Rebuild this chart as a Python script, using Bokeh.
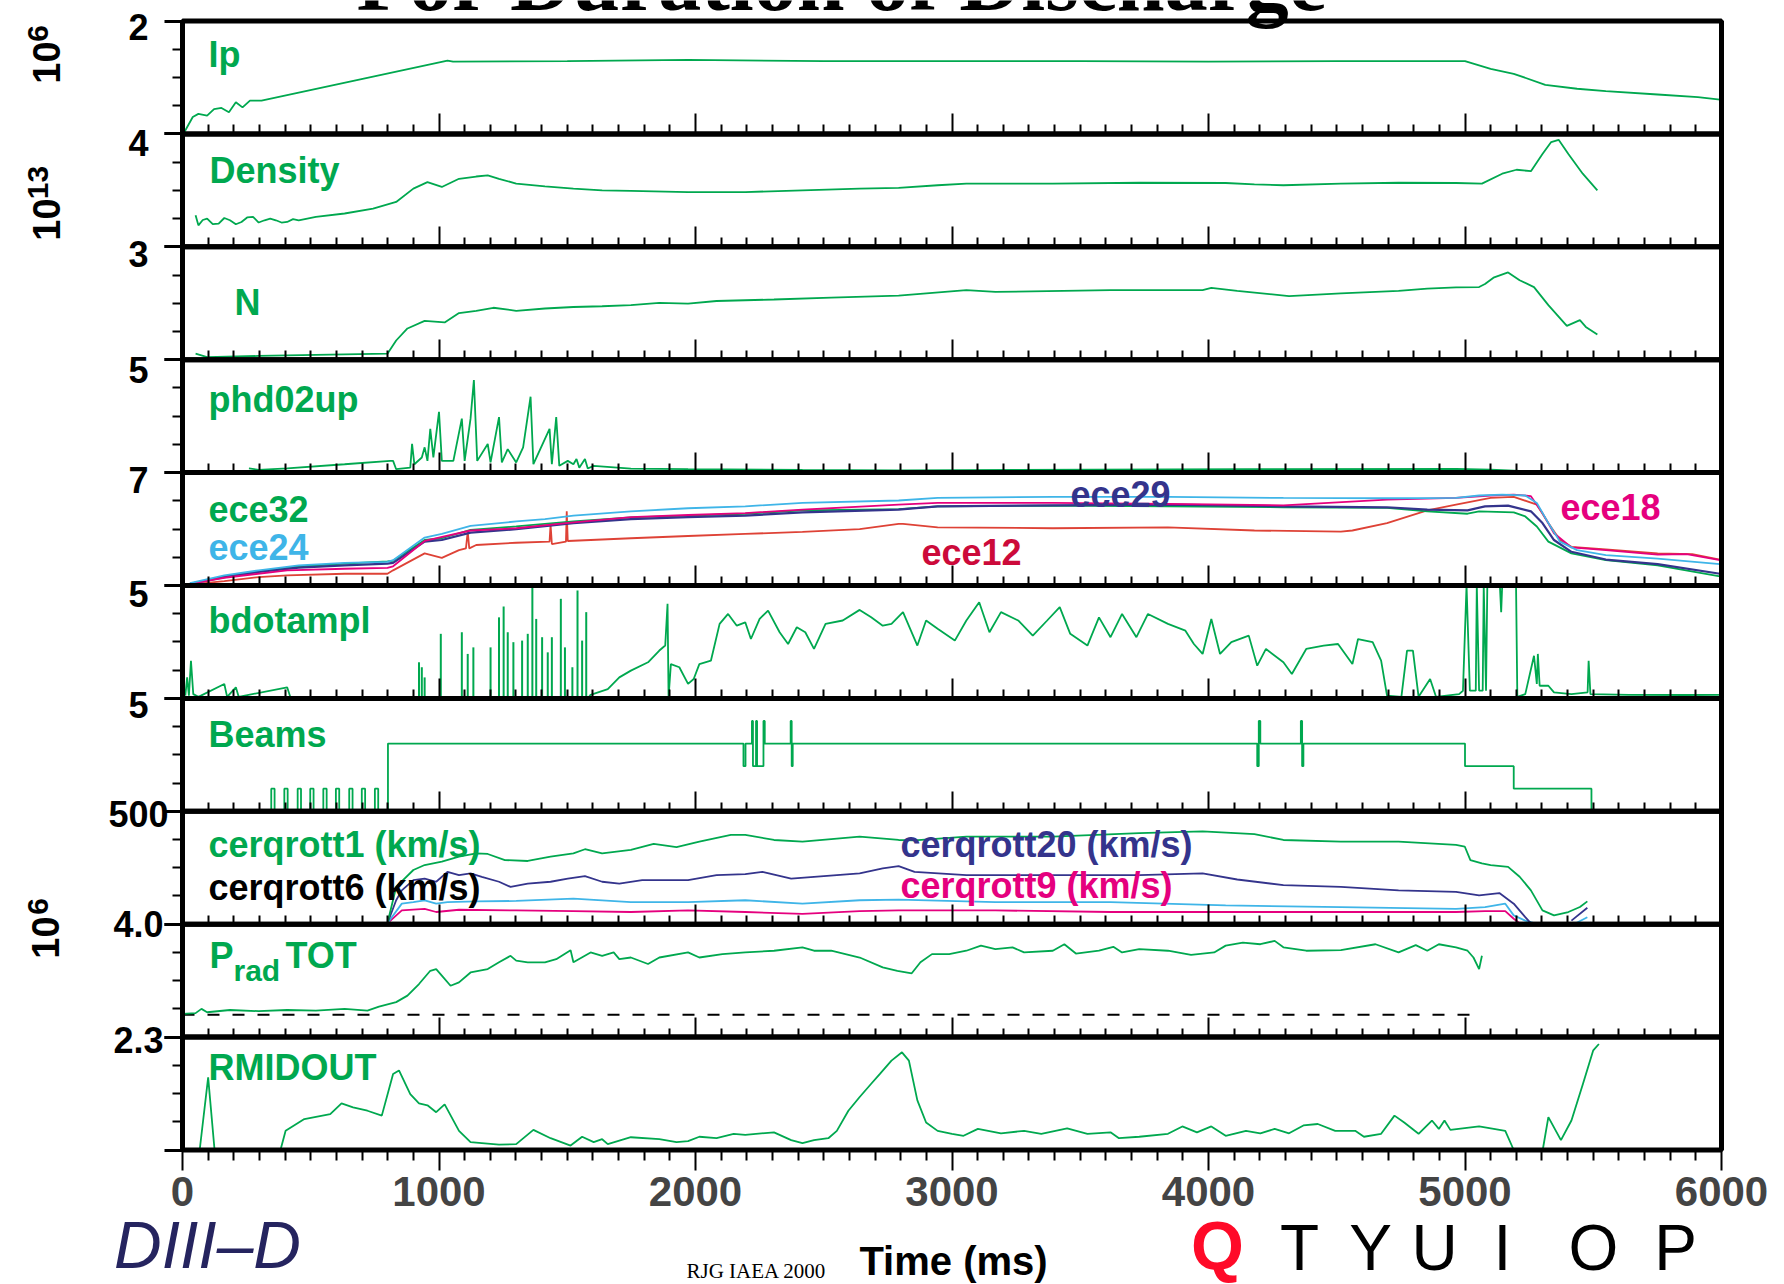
import numpy as np
from bokeh.plotting import figure
from bokeh.models import Range1d, LinearAxis, FixedTicker, Label, BoxAnnotation
from bokeh.embed import file_html
from bokeh.resources import INLINE

NAN = float("nan")

# ---------------- data ----------------
panel_names = ["Ip", "Density", "N", "phd02up", "ece", "bdotampl", "Beams", "cerqrott", "PradTOT", "RMIDOUT"]
panel_max = [2, 4, 3, 5, 7, 5, 5, 500, 4.0, 2.3]
panel_max_labels = ["2", "4", "3", "5", "7", "5", "5", "500", "4.0", "2.3"]
time_ticks = [0, 1000, 2000, 3000, 4000, 5000, 6000]
time_tick_labels = ["0", "1000", "2000", "3000", "4000", "5000", "6000"]

ip_t = [7, 40, 62, 96, 123, 152, 181, 208, 234, 263, 308, 1033, 1055, 1500, 1971, 2500, 3000, 3500, 4000, 4500, 4900, 5000, 5100, 5190, 5313, 5437, 5549, 5751, 5908, 5994]
ip_v = [0.03, 0.30, 0.355, 0.325, 0.44, 0.46, 0.385, 0.56, 0.47, 0.59, 0.59, 1.30, 1.28, 1.29, 1.31, 1.29, 1.29, 1.29, 1.28, 1.29, 1.29, 1.29, 1.15, 1.065, 0.87, 0.80, 0.757, 0.698, 0.651, 0.609]

dens_t = [51, 62, 79, 96, 118, 141, 163, 185, 208, 230, 252, 275, 297, 320, 342, 364, 386, 408, 431, 453, 520, 632, 743, 833, 900, 955, 1011, 1078, 1145, 1190, 1234, 1301, 1413, 1524, 1636, 1748, 1971, 2194, 2417, 2640, 2792, 2944, 3056, 3393, 3730, 4067, 4179, 4292, 4516, 4741, 4965, 5066, 5145, 5201, 5257, 5302, 5336, 5365, 5403, 5459, 5516]
dens_v = [1.12, 0.76, 0.95, 1.0, 0.80, 0.82, 1.02, 0.94, 0.80, 0.88, 1.04, 1.06, 0.86, 0.94, 1.00, 0.94, 0.86, 0.88, 0.98, 0.94, 1.06, 1.18, 1.35, 1.59, 2.06, 2.29, 2.12, 2.41, 2.49, 2.53, 2.41, 2.24, 2.14, 2.06, 2.0, 1.98, 1.94, 1.94, 2.0, 2.06, 2.09, 2.18, 2.24, 2.24, 2.27, 2.26, 2.21, 2.18, 2.24, 2.27, 2.26, 2.24, 2.59, 2.73, 2.68, 3.29, 3.71, 3.79, 3.29, 2.59, 2.0]

n_t = [51, 96, 297, 520, 799, 833, 877, 944, 1022, 1078, 1145, 1212, 1301, 1413, 1524, 1636, 1748, 1859, 1971, 2082, 2306, 2529, 2792, 3056, 3169, 3618, 3977, 4011, 4112, 4314, 4516, 4741, 4853, 4965, 5055, 5078, 5111, 5168, 5213, 5269, 5325, 5397, 5448, 5471, 5516]
n_v = [0.16, 0.07, 0.10, 0.13, 0.16, 0.51, 0.83, 1.03, 0.99, 1.24, 1.30, 1.38, 1.30, 1.36, 1.40, 1.42, 1.45, 1.51, 1.49, 1.56, 1.60, 1.65, 1.70, 1.85, 1.80, 1.85, 1.85, 1.91, 1.83, 1.69, 1.76, 1.83, 1.89, 1.92, 1.93, 2.01, 2.18, 2.32, 2.11, 1.93, 1.45, 0.90, 1.05, 0.87, 0.67]

phd_t = [259, 297, 408, 632, 810, 821, 833, 888, 895, 904, 933, 944, 955, 966, 978, 1000, 1011, 1056, 1089, 1100, 1123, 1136, 1149, 1190, 1201, 1234, 1245, 1268, 1301, 1328, 1357, 1368, 1431, 1440, 1457, 1469, 1502, 1524, 1536, 1547, 1569, 1580, 1603, 1748, 1971, 2417, 2792, 4157, 4965, 5100, 5213]
phd_v = [0.19, 0.12, 0.19, 0.37, 0.52, 0.52, 0.15, 0.22, 1.27, 0.37, 0.67, 1.12, 0.52, 1.94, 0.67, 2.69, 0.52, 0.52, 2.39, 0.52, 2.39, 4.10, 0.52, 1.27, 0.45, 2.46, 0.45, 1.04, 0.45, 1.12, 3.36, 0.37, 1.94, 0.37, 2.46, 0.30, 0.52, 0.37, 0.60, 0.22, 0.60, 0.18, 0.30, 0.18, 0.15, 0.12, 0.10, 0.15, 0.16, 0.13, 0.07]

ece24_t = [29, 163, 297, 453, 632, 799, 821, 944, 1011, 1123, 1301, 1413, 1524, 1748, 1971, 2194, 2417, 2792, 2944, 3393, 3842, 4292, 4741, 4965, 5055, 5145, 5235, 5280, 5325, 5370, 5437, 5549, 5751, 5994]
ece24_v = [0.15, 0.63, 0.94, 1.25, 1.40, 1.46, 1.57, 2.97, 3.20, 3.70, 3.97, 4.12, 4.33, 4.60, 4.79, 4.91, 5.12, 5.27, 5.43, 5.50, 5.50, 5.43, 5.41, 5.43, 5.58, 5.64, 5.58, 5.12, 3.87, 2.72, 2.19, 1.88, 1.67, 1.32]

ece32_t = [29, 163, 297, 453, 632, 799, 821, 944, 1011, 1123, 1301, 1524, 1748, 1971, 2194, 2417, 2792, 2944, 3393, 3842, 4292, 4696, 4853, 5010, 5055, 5190, 5235, 5280, 5325, 5415, 5549, 5751, 5994]
ece32_v = [0.10, 0.56, 0.88, 1.19, 1.36, 1.50, 1.53, 2.82, 2.93, 3.45, 3.66, 3.97, 4.22, 4.33, 4.45, 4.66, 4.74, 4.91, 4.95, 4.91, 4.85, 4.81, 4.60, 4.45, 4.60, 4.53, 4.28, 3.66, 2.72, 1.99, 1.57, 1.25, 0.56]

ece29_t = [29, 163, 297, 453, 632, 799, 821, 944, 1011, 1123, 1301, 1524, 1748, 1971, 2194, 2417, 2792, 2944, 3393, 3842, 4292, 4696, 4853, 5010, 5078, 5168, 5257, 5302, 5347, 5415, 5549, 5751, 5994]
ece29_v = [0.10, 0.52, 0.84, 1.11, 1.25, 1.36, 1.40, 2.72, 2.82, 3.28, 3.49, 3.87, 4.12, 4.24, 4.33, 4.53, 4.70, 4.91, 4.97, 5.02, 4.91, 4.85, 4.70, 4.66, 4.91, 4.95, 4.60, 3.87, 2.82, 2.09, 1.61, 1.32, 0.73]

ece18_t = [29, 163, 408, 632, 799, 821, 944, 1123, 1301, 1524, 1748, 1971, 2194, 2417, 2792, 2944, 3393, 3842, 4292, 4696, 4965, 5100, 5190, 5257, 5302, 5347, 5415, 5549, 5751, 5864, 5994]
ece18_v = [0.10, 0.48, 0.94, 1.04, 1.09, 1.19, 2.76, 3.41, 3.55, 3.91, 4.24, 4.37, 4.49, 4.70, 5.01, 5.12, 5.12, 5.06, 4.97, 5.33, 5.43, 5.58, 5.64, 5.54, 4.49, 3.24, 2.36, 2.19, 1.92, 1.94, 1.57]

ece12_t = [29, 163, 297, 408, 632, 799, 821, 944, 1011, 1078, 1105, 1112, 1118, 1145, 1301, 1431, 1435, 1440, 1495, 1498, 1502, 1748, 1971, 2194, 2417, 2640, 2792, 2809, 2944, 3393, 3842, 4179, 4516, 4561, 4696, 4853, 4965, 5100, 5190, 5280, 5325, 5370, 5415, 5549, 5751, 5886, 5994]
ece12_v = [0.06, 0.27, 0.52, 0.63, 0.73, 0.73, 0.94, 1.99, 1.71, 2.19, 2.30, 3.34, 2.30, 2.51, 2.65, 2.72, 3.76, 2.57, 2.72, 4.60, 2.76, 2.93, 3.07, 3.20, 3.32, 3.49, 3.82, 3.82, 3.61, 3.55, 3.61, 3.41, 3.34, 3.41, 3.87, 4.66, 5.01, 5.43, 5.50, 5.01, 3.87, 2.82, 2.40, 2.24, 1.99, 1.94, 1.61]

bdot_t = [11, 18, 25, 33, 42, 62, 163, 174, 208, 219, 408, 420, 1585, 1591, 1658, 1703, 1748, 1815, 1859, 1882, 1891, 1895, 1904, 1937, 1971, 1993, 2015, 2060, 2094, 2127, 2161, 2194, 2216, 2250, 2283, 2328, 2361, 2395, 2428, 2462, 2507, 2574, 2640, 2685, 2730, 2764, 2809, 2865, 2899, 2944, 3011, 3056, 3106, 3146, 3191, 3258, 3315, 3371, 3420, 3461, 3528, 3573, 3618, 3663, 3719, 3764, 3842, 3910, 3943, 3977, 4011, 4045, 4089, 4157, 4190, 4224, 4292, 4325, 4381, 4449, 4505, 4561, 4583, 4640, 4673, 4696, 4752, 4774, 4797, 4819, 4864, 4887, 4977, 4992, 5006, 5019, 5042, 5046, 5055, 5069, 5073, 5082, 5087, 5136, 5141, 5145, 5199, 5204, 5235, 5269, 5280, 5284, 5291, 5325, 5347, 5415, 5478, 5482, 5489, 5639, 5864, 5994]
bdot_v = [0.12, 0.93, 0.12, 1.67, 0.19, 0.07, 0.64, 0.07, 0.49, 0.07, 0.49, 0.07, 0.07, 0.16, 0.41, 0.93, 1.23, 1.60, 2.12, 2.34, 4.19, 0.07, 1.52, 1.38, 0.64, 0.86, 1.52, 1.67, 3.30, 3.74, 3.22, 3.37, 2.63, 3.52, 3.89, 2.93, 2.41, 3.15, 2.93, 2.19, 3.30, 3.45, 3.92, 3.59, 3.22, 3.30, 3.82, 2.34, 3.45, 3.08, 2.56, 3.45, 4.26, 2.93, 3.82, 3.45, 2.78, 3.45, 4.04, 2.86, 2.34, 3.59, 2.71, 3.74, 2.71, 3.74, 3.30, 3.00, 2.41, 1.97, 3.52, 1.97, 2.49, 2.78, 1.45, 2.19, 1.60, 1.08, 2.19, 2.34, 2.41, 1.52, 2.63, 2.49, 1.67, 0.12, 0.07, 2.12, 2.12, 0.07, 0.86, 0.07, 0.19, 0.34, 5.0, 0.34, 0.34, 5.0, 0.34, 0.34, 5.0, 0.34, 5.0, 5.0, 3.82, 5.0, 5.0, 0.07, 0.19, 1.89, 0.64, 1.97, 0.56, 0.56, 0.27, 0.19, 0.27, 1.67, 0.19, 0.16, 0.15, 0.16]
bdot_spike_t = [922, 933, 944, 1007, 1089, 1112, 1134, 1201, 1234, 1252, 1268, 1290, 1324, 1346, 1364, 1379, 1402, 1424, 1440, 1475, 1491, 1520, 1540, 1558, 1574]
bdot_spike_v = [1.60, 1.38, 0.93, 2.86, 2.93, 1.97, 2.26, 2.26, 3.59, 4.07, 2.93, 2.49, 2.56, 2.86, 5.0, 3.52, 2.71, 2.04, 2.71, 4.41, 2.26, 1.38, 4.78, 2.56, 3.82]

beams_t = [0, 346, 359, 397, 410, 449, 462, 498, 511, 549, 562, 598, 611, 650, 663, 699, 712, 750, 763, 801, 2187, 2195, 2220, 2224, 2236, 2240, 2265, 2270, 2371, 2375, 2379, 4190, 4196, 4202, 4360, 4365, 4370, 5000, 5190, 5493, 5500]
beams_v = [0, 1, 0, 1, 0, 1, 0, 1, 0, 1, 0, 1, 0, 1, 0, 1, 0, 1, 0, 3, 2, 3, 4, 2, 4, 2, 4, 3, 4, 2, 3, 2, 4, 3, 4, 2, 3, 2, 1, 0, 0]

cer1_t = [799, 833, 900, 944, 1011, 1078, 1145, 1190, 1257, 1346, 1435, 1524, 1569, 1636, 1748, 1837, 1926, 2015, 2138, 2194, 2306, 2417, 2529, 2640, 2792, 2854, 3056, 3393, 3730, 3977, 4179, 4292, 4516, 4741, 4965, 4999, 5021, 5066, 5100, 5168, 5213, 5257, 5302, 5347, 5403, 5448, 5477]
cer1_v = [4, 165, 240, 262, 277, 299, 314, 311, 284, 280, 299, 314, 332, 314, 329, 356, 341, 366, 396, 396, 373, 366, 377, 388, 373, 371, 388, 388, 403, 411, 399, 373, 366, 366, 351, 344, 284, 269, 262, 254, 210, 150, 61, 39, 54, 76, 101]

cer20_t = [799, 833, 855, 900, 944, 989, 1033, 1078, 1123, 1167, 1234, 1279, 1346, 1435, 1502, 1569, 1636, 1703, 1792, 1971, 2082, 2194, 2261, 2373, 2462, 2640, 2730, 2792, 2854, 3056, 3393, 3730, 3977, 4112, 4292, 4516, 4741, 4965, 5055, 5134, 5190, 5235, 5257, NAN, 5415, 5477]
cer20_v = [4, 106, 150, 195, 202, 188, 232, 217, 225, 210, 188, 165, 180, 188, 202, 213, 188, 180, 195, 195, 217, 222, 232, 202, 210, 225, 247, 257, 232, 217, 217, 217, 225, 198, 173, 165, 150, 143, 128, 138, 91, 31, 4, NAN, 16, 73]

cer6_t = [799, 855, 900, 944, 989, 1033, 1145, 1301, 1524, 1748, 1971, 2194, 2417, 2640, 2792, 3169, 3618, 4067, 4516, 4965, 5078, 5157, 5190, 5235, 5280, NAN, 5426, 5477]
cer6_v = [4, 91, 98, 106, 91, 98, 101, 103, 113, 98, 98, 106, 91, 106, 109, 98, 98, 83, 76, 68, 76, 91, 39, 16, 1, NAN, 1, 31]

cer9_t = [799, 855, 944, 989, 1078, 1301, 1524, 1748, 1971, 2194, 2417, 2640, 2792, 3169, 3618, 4067, 4516, 4965, 5078, 5157, 5190, 5213]
cer9_v = [4, 61, 68, 54, 64, 61, 58, 54, 61, 54, 46, 58, 61, 61, 54, 54, 54, 54, 58, 58, 24, 4]

prad_t = [0, 51, 74, 96, 185, 297, 408, 520, 632, 721, 766, 833, 877, 922, 966, 989, 1011, 1045, 1078, 1123, 1190, 1234, 1279, 1301, 1346, 1413, 1457, 1513, 1524, 1591, 1636, 1681, 1703, 1748, 1815, 1859, 1971, 2015, 2105, 2194, 2306, 2417, 2462, 2529, 2640, 2730, 2787, 2843, 2877, 2922, 2989, 3056, 3113, 3169, 3236, 3281, 3393, 3438, 3483, 3573, 3629, 3663, 3730, 3842, 3932, 4022, 4067, 4134, 4202, 4258, 4292, 4381, 4516, 4651, 4741, 4808, 4853, 4898, 4965, 5010, 5033, 5055, 5066]
prad_v = [0.82, 0.85, 1.0, 0.88, 0.96, 0.92, 0.96, 0.94, 1.0, 0.94, 1.08, 1.24, 1.47, 1.88, 2.35, 2.41, 2.18, 1.82, 1.94, 2.29, 2.41, 2.65, 2.88, 2.71, 2.65, 2.65, 2.76, 3.08, 2.65, 3.0, 2.88, 3.0, 2.76, 2.82, 2.59, 2.82, 3.0, 2.82, 2.94, 3.0, 3.06, 3.18, 3.06, 3.06, 2.82, 2.47, 2.35, 2.26, 2.65, 2.94, 2.94, 3.06, 3.24, 3.12, 3.18, 3.0, 3.06, 3.29, 2.96, 3.06, 3.20, 3.0, 3.12, 3.06, 2.91, 3.0, 3.24, 3.35, 3.29, 3.41, 3.18, 3.06, 3.08, 3.29, 3.0, 3.26, 3.06, 3.29, 3.18, 3.06, 2.82, 2.41, 2.88]
prad_ref_t = [0, 5066]
prad_ref_v = [0.79, 0.79]

rmid_t = [67, 100, 125, NAN, 382, 402, 475, 576, 620, 665, 721, 777, 821, 844, 888, 922, 955, 989, 1022, 1078, 1123, 1167, 1234, 1301, 1368, 1435, 1513, 1558, 1603, 1636, 1658, 1748, 1859, 1926, 1971, 2015, 2082, 2149, 2194, 2306, 2373, 2417, 2462, 2518, 2551, 2596, 2640, 2685, 2719, 2764, 2805, 2832, 2865, 2899, 2944, 3000, 3045, 3101, 3191, 3281, 3348, 3449, 3528, 3618, 3651, 3730, 3842, 3898, 3955, 4011, 4067, 4146, 4202, 4258, 4314, 4370, 4426, 4494, 4572, 4606, 4673, 4725, 4763, 4819, 4871, 4898, 4920, 4943, 5055, 5112, 5157, 5190, NAN, 5303, 5325, 5374, 5415, 5460, 5500, 5522]
rmid_v = [0, 1.48, 0, NAN, 0, 0.39, 0.63, 0.73, 0.95, 0.87, 0.80, 0.70, 1.55, 1.62, 1.14, 0.95, 0.91, 0.77, 0.93, 0.39, 0.16, 0.14, 0.11, 0.12, 0.41, 0.24, 0.09, 0.27, 0.16, 0.22, 0.12, 0.26, 0.22, 0.16, 0.18, 0.27, 0.24, 0.33, 0.31, 0.36, 0.20, 0.14, 0.20, 0.24, 0.39, 0.80, 1.08, 1.35, 1.55, 1.82, 1.99, 1.82, 1.01, 0.56, 0.39, 0.33, 0.29, 0.43, 0.34, 0.39, 0.33, 0.44, 0.33, 0.36, 0.24, 0.27, 0.33, 0.48, 0.36, 0.48, 0.29, 0.39, 0.34, 0.43, 0.34, 0.50, 0.53, 0.39, 0.39, 0.27, 0.33, 0.70, 0.56, 0.33, 0.60, 0.43, 0.60, 0.41, 0.48, 0.43, 0.39, 0, NAN, 0, 0.67, 0.20, 0.60, 1.35, 2.03, 2.16]

# ---------------- style / layout ----------------
GREEN = "#00A84F"
CYAN = "#3FB5E8"
NAVY = "#34348C"
MAGENTA = "#E5007E"
RED = "#DE4236"
CRIMSON = "#CC0A3A"
SANS = "Liberation Sans"
SERIF = "Liberation Serif"

NP = len(panel_names)
W, H = 1784, 1284          # canvas (the page shows it at its top-left corner)
X0 = 182                   # page x of t = 0
PXMS = 1539 / 6000         # pixels per ms
YB = 1149.5                # page y of the bottom of the last panel
PH = 112.9                 # panel height in px

p = figure(width=W, height=H, title=None,
           x_range=Range1d(-X0 / PXMS, (W - X0) / PXMS),
           y_range=Range1d(-(H - YB) / PH, YB / PH),
           x_axis_type=None, y_axis_type=None, output_backend="svg", toolbar_location=None,
           min_border_left=0, min_border_right=0, min_border_top=0, min_border_bottom=0)
p.grid.visible = False
p.outline_line_color = None
p.background_fill_color = "white"
p.border_fill_color = "white"

u0, u1 = p.y_range.start, p.y_range.end
p.extra_y_ranges = {f"p{k}": Range1d(start=(u0 - (NP - 1 - k)) * panel_max[k],
                                     end=(u1 - (NP - 1 - k)) * panel_max[k]) for k in range(NP)}

minor_time = [t for t in range(100, 6000, 100) if t % 1000 != 0]

# time axis of the last panel (ticks out, labels)
xb = LinearAxis(y_range_name=f"p{NP-1}", fixed_location=0,
                ticker=FixedTicker(ticks=time_ticks, minor_ticks=minor_time),
                axis_line_color=None, major_tick_in=0, major_tick_out=20, minor_tick_in=0, minor_tick_out=10,
                major_tick_line_width=2, minor_tick_line_width=2,
                major_label_text_font=SANS, major_label_text_font_size="42px",
                major_label_text_font_style="bold", major_label_standoff=7,
                major_label_overrides={t: s for t, s in zip(time_ticks, time_tick_labels)})
p.add_layout(xb, "below")

# inner time ticks of the upper panels
for k in range(NP - 1):
    ax = LinearAxis(y_range_name=f"p{k}", fixed_location=0,
                    ticker=FixedTicker(ticks=time_ticks, minor_ticks=minor_time),
                    axis_line_color=None, major_tick_in=20, major_tick_out=0, minor_tick_in=9, minor_tick_out=0,
                    major_tick_line_width=2, minor_tick_line_width=2, major_label_text_color=None)
    p.add_layout(ax, "below")

# per-panel y axes (ticks only; labels placed below)
for k in range(NP):
    m = panel_max[k]
    ay = LinearAxis(y_range_name=f"p{k}", fixed_location=0,
                    ticker=FixedTicker(ticks=[0, m], minor_ticks=[m * 0.25, m * 0.5, m * 0.75]),
                    axis_line_color=None, major_tick_in=0, major_tick_out=18, minor_tick_in=0, minor_tick_out=10,
                    major_tick_line_width=3, minor_tick_line_width=2, major_label_text_color=None)
    p.add_layout(ay, "left")

# data
LW = 1.8
p.line(ip_t, ip_v, y_range_name="p0", line_color=GREEN, line_width=LW)
p.line(dens_t, dens_v, y_range_name="p1", line_color=GREEN, line_width=LW)
p.line(n_t, n_v, y_range_name="p2", line_color=GREEN, line_width=LW)
p.line(phd_t, phd_v, y_range_name="p3", line_color=GREEN, line_width=LW)
p.line(ece12_t, ece12_v, y_range_name="p4", line_color=RED, line_width=LW)
p.line(ece32_t, ece32_v, y_range_name="p4", line_color=GREEN, line_width=LW)
p.line(ece29_t, ece29_v, y_range_name="p4", line_color=NAVY, line_width=2.2)
p.line(ece18_t, ece18_v, y_range_name="p4", line_color=MAGENTA, line_width=LW)
p.line(ece24_t, ece24_v, y_range_name="p4", line_color=CYAN, line_width=LW)
p.line(bdot_t, bdot_v, y_range_name="p5", line_color=GREEN, line_width=LW)
p.segment(x0=bdot_spike_t, y0=[0] * len(bdot_spike_t), x1=bdot_spike_t, y1=bdot_spike_v,
          y_range_name="p5", line_color=GREEN, line_width=2)
p.step(beams_t, beams_v, mode="after", y_range_name="p6", line_color=GREEN, line_width=LW)
p.line(cer9_t, cer9_v, y_range_name="p7", line_color=MAGENTA, line_width=LW)
p.line(cer6_t, cer6_v, y_range_name="p7", line_color=CYAN, line_width=LW)
p.line(cer20_t, cer20_v, y_range_name="p7", line_color=NAVY, line_width=LW)
p.line(cer1_t, cer1_v, y_range_name="p7", line_color=GREEN, line_width=LW)
p.line(prad_ref_t, prad_ref_v, y_range_name="p8", line_color="black", line_width=2, line_dash="12 13")
p.line(prad_t, prad_v, y_range_name="p8", line_color=GREEN, line_width=LW)
p.line(rmid_t, rmid_v, y_range_name="p9", line_color=GREEN, line_width=LW)

# panel frames
for k in range(NP):
    p.add_layout(BoxAnnotation(left=0, right=6000, bottom=NP - 1 - k, top=NP - k,
                               fill_color=None, fill_alpha=0, line_color="black", line_width=5, line_alpha=1))


def add_text(text, xp, yp, size, color="black", font=SANS, style="bold", align="left",
             angle=0, center=False):
    """xp, yp in page pixels; yp is the baseline unless center=True."""
    yc = yp if center else yp - 0.35 * size
    p.add_layout(Label(x=xp, y=H - yc, x_units="screen", y_units="screen",
                       text=text, text_font=font, text_font_size=f"{size}px", text_font_style=style,
                       text_color=color, text_align=align, text_baseline="middle",
                       angle=angle, angle_units="deg"))


# y tick labels (one per panel, at its top)
label_center_offsets = [5.5, 9, 7, 10, 7, 8.5, 7, 2.5, 0, 3]
for k in range(NP):
    top = YB - (NP - k) * PH
    add_text(panel_max_labels[k], 138, top + label_center_offsets[k], 36, align="center", center=True)

# exponent labels
add_text("10", 46, 62, 38, angle=90, align="center", center=True)
add_text("6", 37, 33, 30, angle=90, align="center", center=True)
add_text("10", 46, 219, 38, angle=90, align="center", center=True)
add_text("13", 37, 182, 30, angle=90, align="center", center=True)
add_text("10", 45, 937, 38, angle=90, align="center", center=True)
add_text("6", 37, 906, 30, angle=90, align="center", center=True)

# panel names
LS = 36
add_text("Ip", 208, 67, LS, GREEN)
add_text("Density", 209, 183, LS, GREEN)
add_text("N", 234, 315, LS, GREEN)
add_text("phd02up", 208, 412, LS, GREEN)
add_text("ece32", 208, 522, LS, GREEN)
add_text("ece24", 208, 560, LS, CYAN)
add_text("ece29", 1070, 507, LS, NAVY)
add_text("ece18", 1560, 520, LS, MAGENTA)
add_text("ece12", 921, 565, LS, CRIMSON)
add_text("bdotampl", 208, 633, LS, GREEN)
add_text("Beams", 208, 747, LS, GREEN)
add_text("cerqrott1 (km/s)", 208, 857, LS, GREEN)
add_text("cerqrott6 (km/s)", 208, 900, LS, "black")
add_text("cerqrott20 (km/s)", 900, 857, LS, NAVY)
add_text("cerqrott9 (km/s)", 900, 898, LS, MAGENTA)
add_text("P", 209, 968, LS, GREEN)
add_text("rad", 233, 980, 30, GREEN)
add_text("TOT", 285, 968, LS, GREEN)
add_text("RMIDOUT", 208, 1080, LS, GREEN)

# title (cut off at the top, as in the picture)
add_text("For Duration of Discharge", 842, 11, 86, "black", SERIF, align="center")

# footer
add_text("Time (ms)", 953, 1274, 40, "black", SANS, align="center")
add_text("DIII\u2013D", 207, 1268, 66, "#25245F", SANS, style="italic", align="center")
add_text("RJG IAEA 2000", 686, 1278, 21, "black", SERIF, style="normal")
add_text("Q", 1217, 1268, 68, "#FF0A28", SANS, style="bold", align="center")
for ch, xc in [("T", 1299), ("Y", 1370), ("U", 1434), ("I", 1502), ("O", 1593), ("P", 1675)]:
    add_text(ch, xc, 1270, 64, "black", SANS, style="normal", align="center")

open("out.html", "w").write(file_html(p, INLINE))
